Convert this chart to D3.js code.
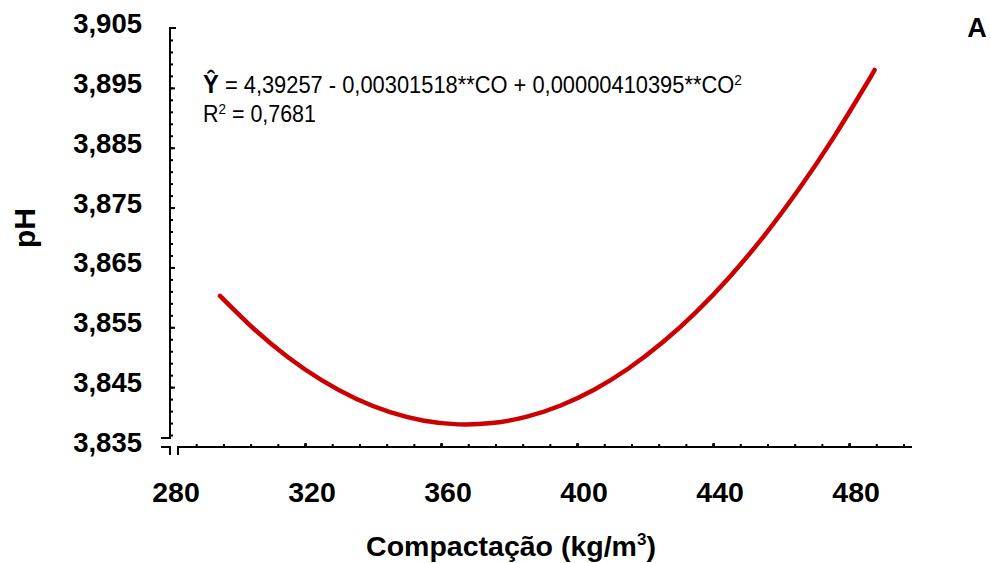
<!DOCTYPE html>
<html><head><meta charset="utf-8">
<script src="https://cdn.jsdelivr.net/npm/d3@7"></script>
<style>
html,body{margin:0;padding:0;background:#fff;}
svg{display:block;}
</style>
</head><body>
<svg id="chart" width="991" height="563"></svg>
<script>
// Compactação (kg/m3) values along the fitted curve
const compactacao = [295, 305, 315, 325, 335, 345, 355, 365, 375, 385, 395, 405, 415, 425, 435, 445, 455, 465, 475, 485, 487.5];
// pH
const ph = [3.86024, 3.85471, 3.85000, 3.84612, 3.84305, 3.84081, 3.83938, 3.83878, 3.83900, 3.84003, 3.84189, 3.84457, 3.84807, 3.85240, 3.85754, 3.86350, 3.87028, 3.87789, 3.88631, 3.89556, 3.89800];
const xTickLabels = [280, 320, 360, 400, 440, 480];
const yTickLabels = [3.835, 3.845, 3.855, 3.865, 3.875, 3.885, 3.895, 3.905];
const equationText = "= 4,39257 - 0,00301518**CO + 0,00000410395**CO";
const r2Text = "= 0,7681";

const svg = d3.select("#chart");
const x = d3.scaleLinear().domain([280, 498.5]).range([169, 912]);
const y = d3.scaleLinear().domain([3.835, 3.905]).range([447, 28]);

const bold = "'Liberation Sans', Arial, sans-serif";

// ----- Y axis (broken at bottom)
const yAxisG = svg.append("g");
function seg(x1, y1, x2, y2) {
  yAxisG.append("line").attr("x1", x1).attr("x2", x2).attr("y1", y1).attr("y2", y2)
    .attr("stroke", "#000").attr("stroke-width", 2);
}
seg(170, y(3.905), 170, 438);
seg(169, y(3.905), 176, y(3.905));
seg(161, 438, 171, 438);
seg(161, 447, 171, 447);
seg(170, 446, 170, 455);
seg(178, 446, 178, 455);

const yMinor = d3.range(3.837, 3.9045, 0.002).filter(v => y(v) < 437 && y(v) > 30);
svg.append("g").attr("transform", "translate(170,0)")
  .call(d3.axisRight(y).tickValues(yMinor).tickSize(3).tickFormat(""))
  .call(g => g.select(".domain").remove())
  .selectAll("line").attr("stroke", "#000").attr("stroke-width", 2);
svg.append("g").attr("transform", "translate(170,0)")
  .call(d3.axisRight(y).tickValues(yTickLabels.filter(v => v > 3.84 && v < 3.9)).tickSize(5).tickFormat(""))
  .call(g => g.select(".domain").remove())
  .selectAll("line").attr("stroke", "#000").attr("stroke-width", 2);

svg.append("g").selectAll("text").data(yTickLabels).join("text")
  .attr("x", 142).attr("y", d => y(d) + 5)
  .attr("text-anchor", "end")
  .attr("font-family", bold).attr("font-weight", "bold").attr("font-size", 27.5)
  .attr("fill", "#000")
  .text(d => d3.format(".3f")(d).replace(".", ","));

// ----- X axis
svg.append("line").attr("x1", 178).attr("x2", x(498.5)).attr("y1", 447).attr("y2", 447)
  .attr("stroke", "#000").attr("stroke-width", 2);
svg.append("g").attr("transform", "translate(0,447)")
  .call(d3.axisTop(x).tickValues(d3.range(288, 497, 8)).tickSize(3).tickFormat(""))
  .call(g => g.select(".domain").remove())
  .selectAll("line").attr("stroke", "#000").attr("stroke-width", 2);
svg.append("g").attr("transform", "translate(0,447)")
  .call(d3.axisTop(x).tickValues(xTickLabels.filter(v => v > 280)).tickSize(4).tickFormat(""))
  .call(g => g.select(".domain").remove())
  .selectAll("line").attr("stroke", "#000").attr("stroke-width", 2.5);

svg.append("g").selectAll("text").data(xTickLabels).join("text")
  .attr("x", d => x(d) + 7).attr("y", 502)
  .attr("text-anchor", "middle")
  .attr("font-family", bold).attr("font-weight", "bold").attr("font-size", 28.5)
  .attr("fill", "#000")
  .text(d => d);

// ----- Axis titles
const xt = svg.append("text").attr("x", 511).attr("y", 556).attr("text-anchor", "middle")
  .attr("font-family", bold).attr("font-weight", "bold").attr("font-size", 28.5).attr("fill", "#000");
xt.append("tspan").text("Compactação (kg/m");
xt.append("tspan").attr("font-size", 17).attr("dy", -11).text("3");
xt.append("tspan").attr("dy", 11).text(")");

svg.append("text").attr("transform", "translate(35,228) rotate(-90)").attr("text-anchor", "middle")
  .attr("font-family", bold).attr("font-weight", "bold").attr("font-size", 30).attr("fill", "#000")
  .text("pH");

svg.append("text").attr("x", 977).attr("y", 37).attr("text-anchor", "middle")
  .attr("font-family", bold).attr("font-weight", "bold").attr("font-size", 27).attr("fill", "#000")
  .text("A");

// ----- Equation (condensed, scaled horizontally to the reference width)
function narrowText(xPos, yPos, targetWidth, build) {
  const g = svg.append("g");
  const t = g.append("text").attr("font-family", bold).attr("font-size", 24).attr("fill", "#000");
  build(t);
  const w = t.node().getBBox().width;
  g.attr("transform", `translate(${xPos},${yPos}) scale(${targetWidth / w},1)`);
}
narrowText(203, 93, 539, t => {
  t.append("tspan").attr("font-weight", "bold").attr("font-size", 26).text("Ŷ");
  t.append("tspan").text(" " + equationText);
  t.append("tspan").attr("font-size", 15).attr("dy", -8).text("2");
});
narrowText(203, 122, 113, t => {
  t.append("tspan").text("R");
  t.append("tspan").attr("font-size", 15).attr("dy", -8).text("2");
  t.append("tspan").attr("dy", 8).text(" " + r2Text);
});

// ----- Curve
const pts = compactacao.map((c, i) => [c, ph[i]]);
svg.append("path").datum(pts)
  .attr("d", d3.line().x(d => x(d[0])).y(d => y(d[1])).curve(d3.curveNatural))
  .attr("fill", "none").attr("stroke", "#cc0000").attr("stroke-width", 4.5).attr("stroke-linecap", "round");
</script>
</body></html>
